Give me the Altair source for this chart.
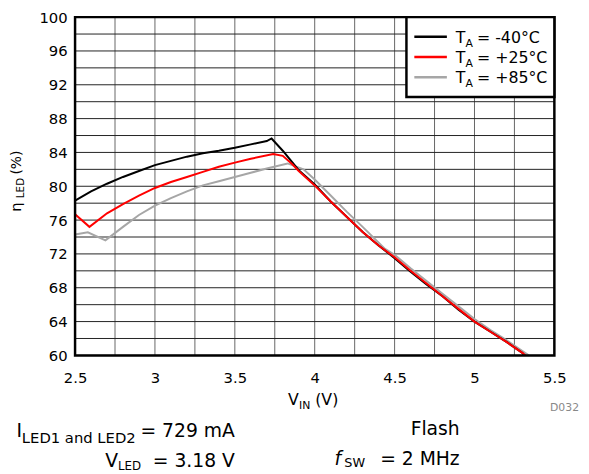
import altair as alt
import pandas as pd

FONT = "DejaVu Sans"

# ---- data ----
x_m40 = [2.5, 2.6, 2.7, 2.8, 2.9, 3.0, 3.1, 3.2, 3.3, 3.4, 3.5, 3.6, 3.7, 3.73, 3.8, 3.9,
         4.0, 4.1, 4.2, 4.3, 4.4, 4.5, 4.6, 4.7, 4.8, 4.9, 5.0, 5.1, 5.2, 5.3, 5.31]
y_m40 = [78.3, 79.4, 80.3, 81.1, 81.8, 82.5, 83.0, 83.5, 83.9, 84.2, 84.55, 84.95, 85.35, 85.65, 84.2, 81.9,
         80.2, 78.2, 76.4, 74.6, 73.0, 71.5, 69.9, 68.4, 67.0, 65.4, 64.0, 62.8, 61.6, 60.3, 60.0]

x_p25 = [2.5, 2.59, 2.7, 2.8, 2.9, 3.0, 3.1, 3.2, 3.3, 3.4, 3.5, 3.6, 3.74, 3.8, 3.86, 3.9,
         4.0, 4.1, 4.2, 4.3, 4.4, 4.5, 4.6, 4.7, 4.8, 4.9, 5.0, 5.1, 5.2, 5.3, 5.32]
y_p25 = [76.7, 75.2, 76.8, 77.9, 78.9, 79.8, 80.5, 81.1, 81.7, 82.3, 82.8, 83.25, 83.8, 83.6, 82.6, 81.8,
         80.1, 78.2, 76.4, 74.6, 73.0, 71.6, 70.0, 68.5, 67.0, 65.5, 64.0, 62.8, 61.6, 60.3, 60.0]

x_p85 = [2.5, 2.58, 2.69, 2.8, 2.9, 3.0, 3.1, 3.2, 3.3, 3.4, 3.5, 3.6, 3.7, 3.83, 3.93,
         4.0, 4.1, 4.2, 4.3, 4.44, 4.5, 4.6, 4.7, 4.8, 4.9, 5.0, 5.1, 5.2, 5.3, 5.34]
y_p85 = [74.3, 74.55, 73.6, 75.2, 76.6, 77.7, 78.6, 79.4, 80.1, 80.6, 81.1, 81.6, 82.1, 82.7, 82.0,
         80.8, 78.9, 77.0, 75.2, 72.6, 71.9, 70.3, 68.8, 67.3, 65.8, 64.3, 63.0, 61.8, 60.5, 60.0]

series_names = ["-40°C", "+25°C", "+85°C"]
series_colors = ["#000000", "#ff0000", "#a6a6a6"]

x_ticks = [2.5, 3, 3.5, 4, 4.5, 5, 5.5]
y_ticks = [60, 64, 68, 72, 76, 80, 84, 88, 92, 96, 100]
x_grid = [2.5, 2.75, 3.0, 3.25, 3.5, 3.75, 4.0, 4.25, 4.5, 4.75, 5.0, 5.25, 5.5]
y_grid = [60, 62, 64, 66, 68, 70, 72, 74, 76, 78, 80, 82, 84, 86, 88, 90, 92, 94, 96, 98, 100]

W, H = 486, 343

xs = alt.Scale(domain=[2.5, 5.5], nice=False, zero=False)
ys = alt.Scale(domain=[60, 100], nice=False, zero=False)

df = pd.concat([
    pd.DataFrame({"x": x_m40, "y": y_m40, "s": series_names[0]}),
    pd.DataFrame({"x": x_p25, "y": y_p25, "s": series_names[1]}),
    pd.DataFrame({"x": x_p85, "y": y_p85, "s": series_names[2]}),
], ignore_index=True)

xaxis = alt.Axis(values=x_ticks, title=None, grid=False, ticks=False, tickSize=0, domain=False,
                 labelFlush=False, labelOverlap=False, labelPadding=27, labelBaseline="alphabetic",
                 labelFont=FONT, labelFontSize=15, labelColor="#000", format="~g")
yaxis = alt.Axis(values=y_ticks, title=None, grid=False, ticks=False, tickSize=0, domain=False,
                 labelOverlap=False, labelPadding=8, labelFont=FONT, labelFontSize=15,
                 labelColor="#000")

gx = alt.Chart(pd.DataFrame({"gx": x_grid})).mark_rule(color="#666666", strokeWidth=1).encode(
    x=alt.X("gx:Q", scale=xs, axis=xaxis))
gy = alt.Chart(pd.DataFrame({"gy": y_grid})).mark_rule(color="#222222", strokeWidth=1).encode(
    y=alt.Y("gy:Q", scale=ys, axis=yaxis))

def series_line(name, color):
    return alt.Chart(df).transform_filter(alt.datum.s == name).mark_line(
        color=color, strokeWidth=2).encode(
        x=alt.X("x:Q", scale=xs, axis=xaxis), y=alt.Y("y:Q", scale=ys, axis=yaxis))

lines = [series_line(series_names[2], series_colors[2]),
         series_line(series_names[0], series_colors[0]),
         series_line(series_names[1], series_colors[1])]

one = pd.DataFrame({"a": [0]})
frame = alt.Chart(one).mark_rect(fill="transparent", stroke="#000", strokeWidth=2.5).encode(
    x=alt.value(0), x2=alt.value(W), y=alt.value(0), y2=alt.value(H))

# legend
leg = pd.DataFrame({"name": series_names, "col": series_colors, "i": [0, 1, 2]})
leg["ly"] = 20 + 20.5 * leg["i"]
leg["tb"] = leg["ly"] + 6
leg["sb"] = leg["ly"] + 10
leg["T"] = "T"
leg["A"] = "A"
leg["rest"] = "= " + leg["name"]
legbox = alt.Chart(one).mark_rect(fill="white", stroke="#000", strokeWidth=2.5).encode(
    x=alt.value(336), x2=alt.value(W), y=alt.value(0), y2=alt.value(81))
legline = alt.Chart(leg).mark_rule(strokeWidth=2.5).encode(
    x=alt.value(344), x2=alt.value(377), y=alt.Y("ly:Q", scale=None),
    color=alt.Color("col:N", scale=None))
legT = alt.Chart(leg).mark_text(align="left", baseline="alphabetic", font=FONT, fontSize=16, color="#000").encode(
    x=alt.value(386), y=alt.Y("tb:Q", scale=None), text="T:N")
legA = alt.Chart(leg).mark_text(align="left", baseline="alphabetic", font=FONT, fontSize=11, color="#000").encode(
    x=alt.value(395.8), y=alt.Y("sb:Q", scale=None), text="A:N")
legR = alt.Chart(leg).mark_text(align="left", baseline="alphabetic", font=FONT, fontSize=16, color="#000").encode(
    x=alt.value(407.5), y=alt.Y("tb:Q", scale=None), text="rest:N")

def label(text, px, py, size, align="left", angle=0, color="#000", italic=False):
    # px, py given in page coordinates; plot origin is at page (76, 14)
    return alt.Chart(pd.DataFrame({"t": [text]})).mark_text(
        align=align, baseline="alphabetic", font=FONT, fontSize=size, angle=angle,
        color=color, fontStyle="italic" if italic else "normal").encode(
        x=alt.value(px - 76), y=alt.value(py - 14), text="t:N")

texts = [
    # x axis title
    label("V", 292, 407, 16),
    label("IN", 303, 411, 11),
    label("(V)", 319.5, 407, 16),
    # y axis title (rotated)
    label("η", 21, 206.5, 15, align="center", angle=270),
    label("LED", 24.5, 187.3, 10.5, align="center", angle=270),
    label("(%)", 21, 161.5, 14, align="center", angle=270),
    # figure id
    label("D032", 587, 413, 11, align="right", color="#888888"),
    # conditions
    label("I", 16.5, 440, 19),
    label("LED1 and LED2", 22, 446, 15),
    label("= 729 mA", 238, 440, 19, align="right"),
    label("V", 106.5, 470, 19),
    label("LED", 119.5, 473, 12),
    label("= 3.18 V", 238, 470, 19, align="right"),
    label("Flash", 466, 438, 19, align="right"),
    label("f", 339, 468, 19, italic=True),
    label("SW", 349, 470, 13),
    label("= 2 MHz", 466, 468, 19, align="right"),
]

chart = alt.layer(gx, gy, *lines, frame, legbox, legline, legT, legA, legR, *texts).properties(
    width=W, height=H,
    padding={"left": 68, "top": 6, "right": 27, "bottom": 117},
    autosize=alt.AutoSizeParams(type="none"),
).configure_view(stroke=None)

chart.save("out.html", embed_options={"renderer": "svg", "actions": False})
